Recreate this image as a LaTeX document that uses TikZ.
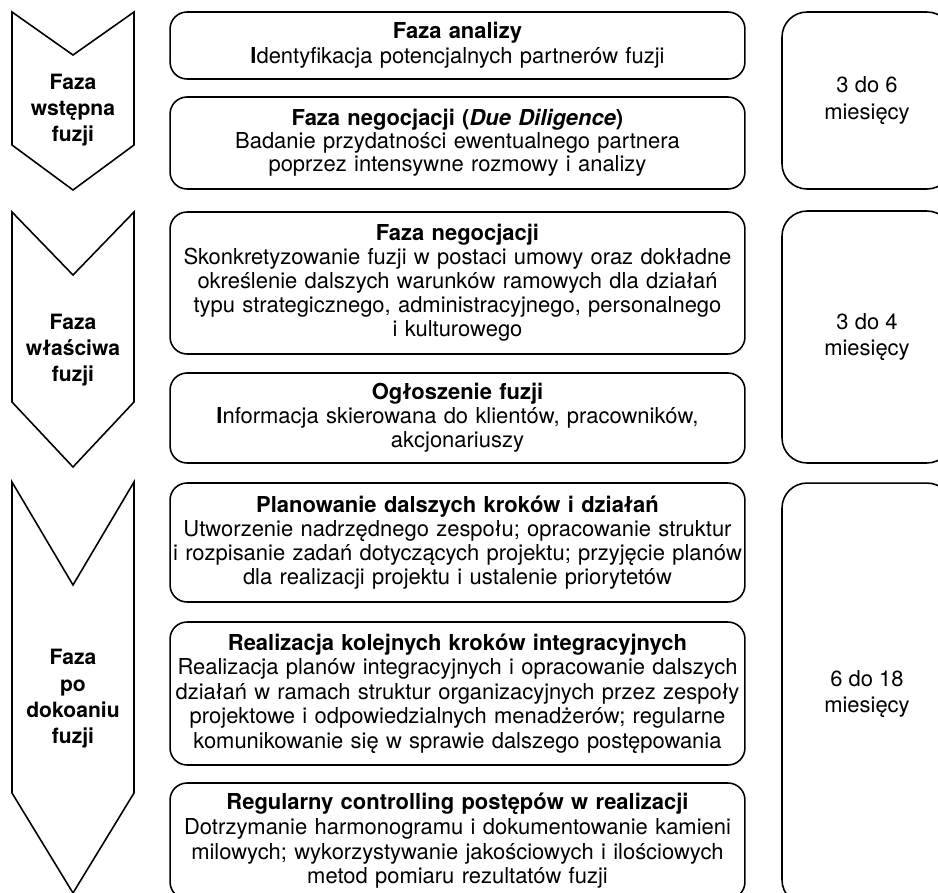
\documentclass[tikz,border=0pt]{standalone}
\usepackage{fontspec}
\setmainfont{TeX Gyre Heros}
\usetikzlibrary{positioning}

\begin{document}
\begin{tikzpicture}[x=0.02cm, y=-0.02cm, line width=0.9pt,
  etap/.style 2 args={rectangle, rounded corners=0.34cm, draw, minimum width=11.5cm,
               text width=11.4cm, minimum height=#1, align=center, inner sep=0pt,
               font=\fontsize{12.5}{#2}\selectfont},
  czas/.style={rectangle, rounded corners=0.5cm, draw, minimum width=3.4cm,
               minimum height=#1, align=center, inner sep=0pt,
               font=\fontsize{12.5}{15}\selectfont},
  faza/.style={align=center, inner sep=0pt, font=\fontsize{12}{15}\selectfont\bfseries}]
\useasboundingbox (0,0) rectangle (938,893);
\clip (0,0) rectangle (938,893);
% strzalki faz
\draw (12,12) -- (73,55) -- (134,12) -- (134,145) -- (73,190) -- (12,145) -- cycle;
\draw (12,212) -- (73,275) -- (134,212) -- (134,402) -- (73,467) -- (12,402) -- cycle;
\draw (12,482) -- (73,585) -- (134,482) -- (134,793) -- (73,893) -- (12,793) -- cycle;
\node[faza] (wstepna) at (73,110) {Faza\\ wstępna\\ fuzji};
\node[faza] (wlasciwa) at (73,350) {Faza\\ właściwa\\ fuzji};
\node[faza] (po) at (73,699) {Faza\\ po\\ dokoaniu\\ fuzji};
% etapy
\node[etap={1.34cm}{14pt}] (analiza) at (457.5,45.5) {\textbf{Faza analizy}\\ \textbf{I}dentyfikacja potencjalnych partnerów fuzji};
\node[etap={1.84cm}{13pt}] (diligence) at (457.5,143) {\textbf{Faza negocjacji (\textit{Due Diligence})}\\ Badanie przydatności ewentualnego partnera\\ poprzez intensywne rozmowy i analizy};
\node[etap={2.84cm}{13.7pt}] (negocjacje) at (457.5,283) {\textbf{Faza negocjacji}\\ Skonkretyzowanie fuzji w postaci umowy oraz dokładne\\ określenie dalszych warunków ramowych dla działań\\ typu strategicznego, administracyjnego, personalnego\\ i kulturowego};
\node[etap={1.8cm}{13.7pt}] (ogloszenie) at (457.5,418) {\textbf{Ogłoszenie fuzji}\\ \textbf{I}nformacja skierowana do klientów, pracowników,\\ akcjonariuszy};
\node[etap={2.38cm}{13.7pt}] (planowanie) at (457.5,542.5) {\textbf{Planowanie dalszych kroków i działań}\\ Utworzenie nadrzędnego zespołu; opracowanie struktur\\ i rozpisanie zadań dotyczących projektu; przyjęcie planów\\ dla realizacji projektu i ustalenie priorytetów};
\node[etap={2.86cm}{14pt}] (realizacja) at (457.5,693.5) {\textbf{Realizacja kolejnych kroków integracyjnych}\\ Realizacja planów integracyjnych i opracowanie dalszych\\ działań w ramach struktur organizacyjnych przez zespoły\\ projektowe i odpowiedzialnych menadżerów; regularne\\ komunikowanie się w sprawie dalszego postępowania};
\node[etap={2.32cm}{14pt}] (controlling) at (457.5,841) {\textbf{Regularny controlling postępów w realizacji}\\ Dotrzymanie harmonogramu i dokumentowanie kamieni\\ milowych; wykorzystywanie jakościowych i ilościowych\\ metod pomiaru rezultatów fuzji};
% czas trwania
\node[czas=3.54cm] (czas1) at (867,100.5) {3 do 6\\ miesięcy};
\node[czas=5.04cm] (czas2) at (867,337) {3 do 4\\ miesięcy};
\node[czas=8.44cm] (czas3) at (867,694) {6 do 18\\ miesięcy};
\end{tikzpicture}
\end{document}
